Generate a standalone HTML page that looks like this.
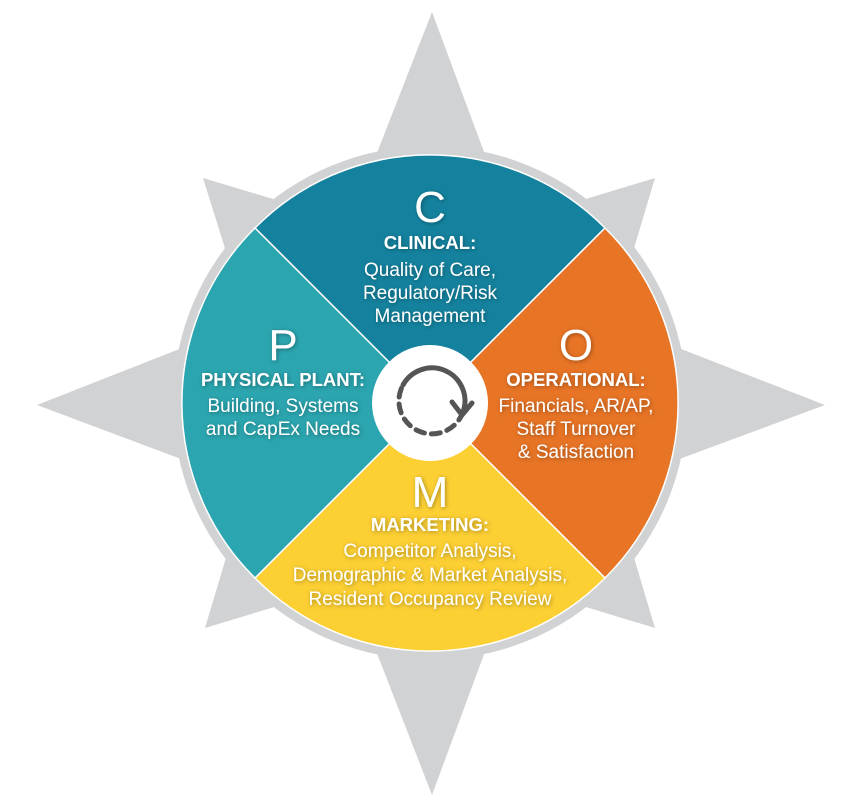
<!DOCTYPE html>
<html><head><meta charset="utf-8"><style>
html,body{margin:0;padding:0;background:#fff;}
svg{display:block;}
text{font-family:"Liberation Sans",sans-serif;fill:#fff;text-anchor:middle;}
.big{font-size:44px;}
.h{font-size:18.5px;font-weight:bold;}
.t{font-size:19px;}
</style></head><body>
<svg width="861" height="804" viewBox="0 0 861 804" xmlns="http://www.w3.org/2000/svg">
<defs>
<filter id="sh" x="-20%" y="-20%" width="140%" height="140%"><feDropShadow dx="1" dy="1" stdDeviation="2" flood-color="#000" flood-opacity="0.35"/></filter>
</defs>
<polygon fill="#D1D2D4" points="432,12 510,222 655,178 612,322 825,405 612,484 655,628 510,584 432,795 350,584 205,628 248,484 37,405 248,322 203,178 350,222"/>
<circle cx="430" cy="403" r="257" fill="#D1D2D4"/>
<circle cx="430" cy="403" r="247.5" fill="#fff"/>
<g>
<path d="M430,403 L255,228 A246,246 0 0 1 605,228 Z" fill="#14829E" stroke="#fff" stroke-width="1.5"/>
<path d="M430,403 L605,228 A246,246 0 0 1 605,578 Z" fill="#E87425" stroke="#fff" stroke-width="1.5"/>
<path d="M430,403 L605,578 A246,246 0 0 1 255,578 Z" fill="#FCCF33" stroke="#fff" stroke-width="1.5"/>
<path d="M430,403 L255,578 A246,246 0 0 1 255,228 Z" fill="#2BA5AF" stroke="#fff" stroke-width="1.5"/>
</g>
<circle cx="430" cy="403" r="58" fill="#fff"/>
<g fill="none" stroke="#555" stroke-width="5" stroke-linecap="round">
<path d="M403,385 A33,33 0 0 1 463,412"/>
<path d="M463,412 A33,33 0 1 1 403,385" stroke-dasharray="9,7"/>
<path d="M452,402 L462,415 L472,403" stroke-linejoin="round"/>
</g>
<g filter="url(#sh)">
<text class="big" x="430" y="222">C</text>
<text class="h" x="430" y="249">CLINICAL:</text>
<text class="t" x="430" y="276">Quality of Care,</text>
<text class="t" x="430" y="299">Regulatory/Risk</text>
<text class="t" x="430" y="322">Management</text>
<text class="big" x="283" y="360">P</text>
<text class="h" x="283" y="386">PHYSICAL PLANT:</text>
<text class="t" x="283" y="412">Building, Systems</text>
<text class="t" x="283" y="435">and CapEx Needs</text>
<text class="big" x="576" y="360">O</text>
<text class="h" x="576" y="386">OPERATIONAL:</text>
<text class="t" x="576" y="412">Financials, AR/AP,</text>
<text class="t" x="576" y="435">Staff Turnover</text>
<text class="t" x="576" y="458">&amp; Satisfaction</text>
<text class="big" x="430" y="507">M</text>
<text class="h" x="430" y="531">MARKETING:</text>
<text class="t" x="430" y="557">Competitor Analysis,</text>
<text class="t" x="430" y="581">Demographic &amp; Market Analysis,</text>
<text class="t" x="430" y="605">Resident Occupancy Review</text>
</g>
</svg>
</body></html>
